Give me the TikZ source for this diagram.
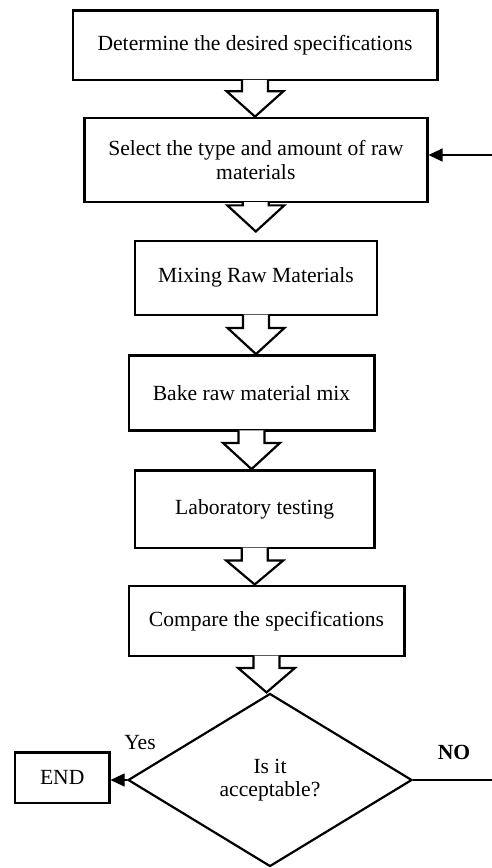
\documentclass[tikz,border=0pt]{standalone}
\usepackage{fontspec}
\setmainfont{Liberation Serif}
\usetikzlibrary{shapes.geometric,arrows.meta,calc}
\newcommand\blkarrow[3]{%
  \draw[blk] let \p1=(#1.south), \p2=(#2) in
    (\x1-13pt,\y1+1.2pt) -- (\x1-13pt,\y1-#3pt) -- (\x1-28.5pt,\y1-#3pt) -- (\x1,\y2)
    -- (\x1+28.5pt,\y1-#3pt) -- (\x1+13pt,\y1-#3pt) -- (\x1+13pt,\y1+1.2pt);}
\begin{document}
\begin{tikzpicture}[x=1pt,y=-1pt,
  txt/.style={font=\fontsize{21.6}{23.5}\selectfont},
  box/.style={txt, draw, line width=2.4pt, inner sep=0pt, align=center},
  dia/.style={txt, draw, diamond, aspect=1.64, line width=2.2pt, inner sep=0pt, align=center},
  blk/.style={draw, fill=white, line width=2.2pt, line join=miter},
  thinarrow/.style={line width=1.1pt, -{Triangle[length=14pt,width=13pt]}},
  thinline/.style={line width=1.1pt}]
\useasboundingbox (0,0) rectangle (492,868);
\node[box, minimum width=364.6, minimum height=69.3] (b1) at (255,45.3) {Determine the desired specifications};
\node[box, minimum width=343, minimum height=84.3] (b2) at (255.8,160) {Select the type and amount of raw\\materials};
\node[box, minimum width=242, minimum height=74] (b3) at (256,277.7) {Mixing Raw Materials};
\node[box, minimum width=245.6, minimum height=75] (b4) at (251.5,392.8) {Bake raw material mix};
\node[box, minimum width=239.3, minimum height=77.4] (b5) at (254.7,509) {Laboratory testing};
\node[box, minimum width=275.6, minimum height=70] (b6) at (266.5,620.7) {Compare the specifications};
\node[dia, minimum width=284, minimum height=173] (d) at (270,780) {Is it\\acceptable?};
\node[box, minimum width=94.3, minimum height=50.4] (e) at (62.2,777.5) {END};
\node[txt] (yes) at (140,743) {Yes};
\node[txt, font=\fontsize{21.6}{23.5}\selectfont\bfseries] (no) at (454,752) {NO};
\blkarrow{b1}{b2.north}{10}
\blkarrow{b2}{$(b3.north)+(0,-8)$}{2}
\blkarrow{b3}{b4.north}{12}
\blkarrow{b4}{b5.north}{11.4}
\blkarrow{b5}{b6.north}{11.6}
\blkarrow{b6}{d.north}{11}
\coordinate (inR) at (492,155);
\coordinate (noR) at (492,780);
\draw[thinarrow] (inR) -- (inR -| b2.east);
\draw[thinline] (d.east) -- (noR);
\draw[thinarrow] (d.west) -- (d.west -| e.east);
\end{tikzpicture}
\end{document}
